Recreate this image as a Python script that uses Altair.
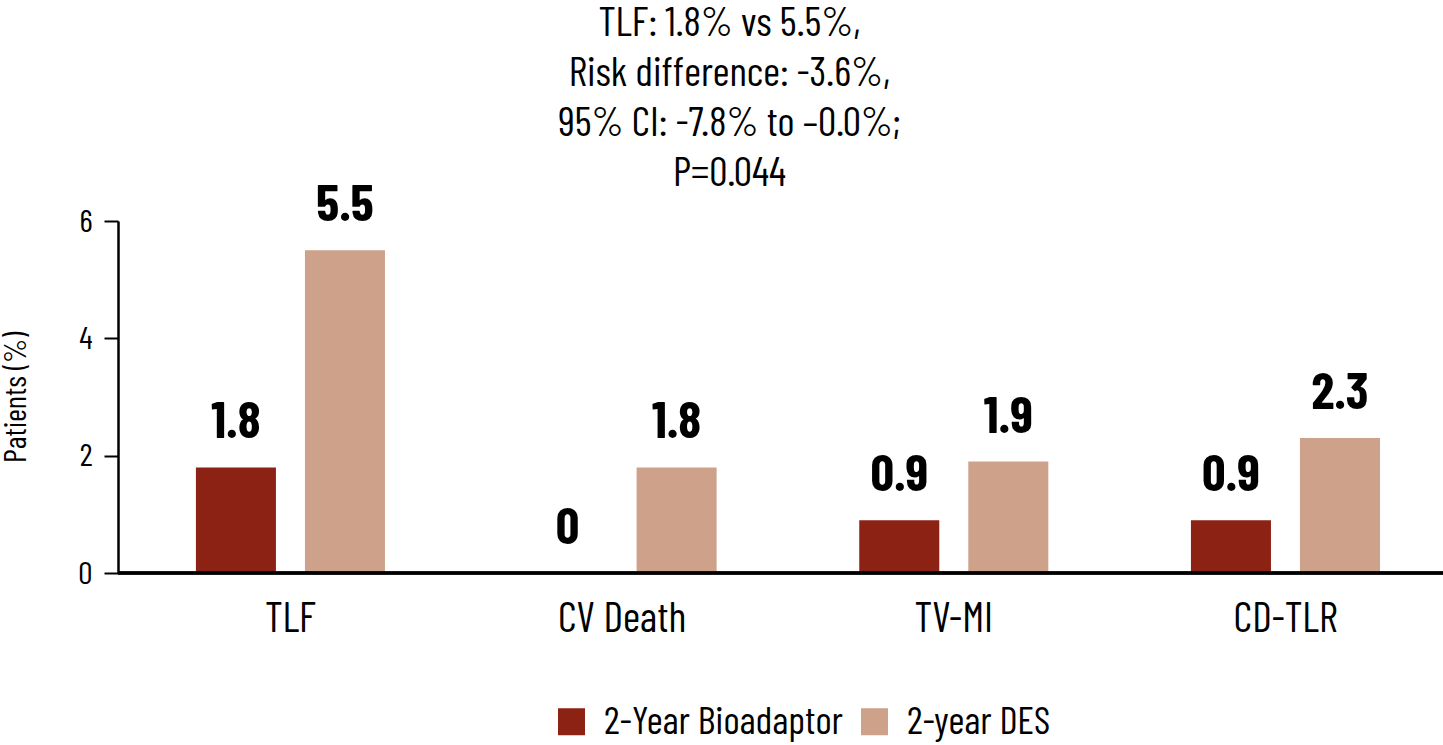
import altair as alt
import pandas as pd

# Outcome categories and the two series' event rates (%)
categories = ["TLF", "CV Death", "TV-MI", "CD-TLR"]
series = ["2-Year Bioadaptor", "2-year DES"]
bioadaptor = [1.8, 0, 0.9, 0.9]
des = [5.5, 1.8, 1.9, 2.3]
colors = ["#8C2213", "#CEA18B"]
y_ticks = [0, 2, 4, 6]
headline = [
    "TLF: 1.8% vs 5.5%,",
    "Risk difference: -3.6%,",
    "95% CI: -7.8% to \u20130.0%;",
    "P=0.044",
]

FONT = "Barlow Condensed"
W, H = 1325, 352

rows = []
for cat, a, b in zip(categories, bioadaptor, des):
    for s, v in zip(series, (a, b)):
        rows.append({"category": cat, "series": s, "value": v, "label": f"{v:g}"})
df = pd.DataFrame(rows)

x_enc = alt.X(
    "category:N",
    sort=categories,
    scale=alt.Scale(range=[6.6, 1333.3], paddingInner=0, paddingOuter=0),
    axis=alt.Axis(
        title=None, labelAngle=0, domain=False, ticks=False, tickSize=0,
        labelPadding=25, labelFontSize=42, labelFont=FONT, labelColor="black",
    ),
)
xoff_enc = alt.XOffset(
    "series:N", sort=series, scale=alt.Scale(paddingInner=0.266, paddingOuter=0.654)
)
y_enc = alt.Y(
    "value:Q",
    scale=alt.Scale(domain=[0, 6]),
    axis=alt.Axis(
        values=y_ticks, format="d", grid=False, title="Patients (%)",
        titleFont=FONT, titleFontSize=31, titleFontWeight="normal", titleColor="black",
        titlePadding=45,
        labelFont=FONT, labelFontSize=32, labelColor="black", labelPadding=12,
        tickSize=14, tickWidth=2, tickColor="black",
        domainColor="black", domainWidth=2.5,
    ),
)

bars = alt.Chart(df).mark_bar().encode(
    x=x_enc,
    xOffset=xoff_enc,
    y=y_enc,
    color=alt.Color(
        "series:N",
        sort=series,
        scale=alt.Scale(domain=series, range=colors),
        legend=alt.Legend(
            title=None, orient="none", direction="horizontal",
            legendX=434, legendY=481, padding=0,
            symbolType="square", symbolSize=729, symbolStrokeWidth=0, symbolOpacity=1,
            labelFont=FONT, labelFontSize=39, labelColor="black", labelLimit=500,
            labelOffset=13, columnPadding=12,
        ),
    ),
)

labels = alt.Chart(df).mark_text(
    font=FONT, fontSize=52, fontWeight="bold", color="black",
    baseline="alphabetic", dy=-29,
).encode(x=x_enc, xOffset=xoff_enc, y=y_enc, text="label:N")

baseline_rule = alt.Chart(df).mark_rule(color="black", strokeWidth=2.5).encode(
    y=alt.datum(0), x=alt.value(0), x2=alt.value(W)
)

chart = (
    alt.layer(bars, labels, baseline_rule)
    .properties(
        width=W,
        height=H,
        title=alt.TitleParams(
            text=headline, font=FONT, fontSize=41, fontWeight="normal", color="black",
            lineHeight=50, anchor="middle", dx=-51, dy=43, offset=27,
        ),
        autosize=alt.AutoSizeParams(type="none"),
        padding={"left": 118, "top": 221, "right": 0, "bottom": 172},
    )
    .configure_view(stroke=None)
)

chart.save("out.html", embed_options={"renderer": "svg", "actions": False})
